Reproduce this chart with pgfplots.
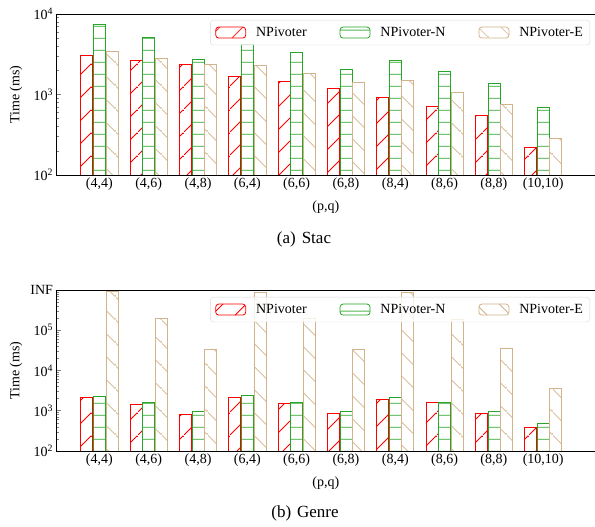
\documentclass[border=0pt]{standalone}
\usepackage{pgfplots}
\pgfplotsset{compat=1.18}
\usepackage{pgfplotstable}
\usepackage{fontspec}
\setmainfont{Liberation Serif}
\usetikzlibrary{patterns}
\definecolor{npred}{RGB}{255,0,0}
\definecolor{npgreen}{RGB}{40,165,40}
\definecolor{nptan}{RGB}{210,180,140}
\newcommand{\myfs}{\fontsize{14}{16}\selectfont}

\pgfdeclarepatterninherentlycolored{hred}{\pgfqpoint{0pt}{0pt}}{\pgfqpoint{23.3pt}{23.3pt}}{\pgfqpoint{23.3pt}{23.3pt}}{%
  \pgfsetcolor{npred}\pgfsetlinewidth{0.8pt}%
  \pgfpathmoveto{\pgfqpoint{-1pt}{-1pt}}\pgfpathlineto{\pgfqpoint{24.3pt}{24.3pt}}\pgfusepath{stroke}}
\pgfdeclarepatterninherentlycolored{htan}{\pgfqpoint{0pt}{0pt}}{\pgfqpoint{23.3pt}{23.3pt}}{\pgfqpoint{23.3pt}{23.3pt}}{%
  \pgfsetcolor{nptan}\pgfsetlinewidth{0.8pt}%
  \pgfpathmoveto{\pgfqpoint{-1pt}{24.3pt}}\pgfpathlineto{\pgfqpoint{24.3pt}{-1pt}}\pgfusepath{stroke}}
\pgfdeclarepatterninherentlycolored{hgreen}{\pgfqpoint{0pt}{0pt}}{\pgfqpoint{10pt}{11.7pt}}{\pgfqpoint{10pt}{11.7pt}}{%
  \pgfsetcolor{npgreen}\pgfsetlinewidth{0.8pt}%
  \pgfpathmoveto{\pgfqpoint{-1pt}{5.85pt}}\pgfpathlineto{\pgfqpoint{11pt}{5.85pt}}\pgfusepath{stroke}}

\pgfplotstableread{
x r n e
0 3030 7510 3400
1 2683 5130 2840
2 2345 2737 2370
3 1663 4200 2306
4 1458 3344 1834
5 1194 2075 1430
6 912 2660 1483
7 720 1920 1065
8 545 1390 755
9 223 686 282
}\stac

\pgfplotstableread{
x r n e
0 2090 2260 900000
1 1457 1580 200000
2 810 944 34300
3 2135 2350 880000
4 1515 1633 200000
5 842 944 34300
6 1937 2135 880000
7 1580 1633 185000
8 857 944 36300
9 380 476 3630
}\genre

\begin{document}
\begin{tikzpicture}
\useasboundingbox (0,0) rectangle (595pt,527pt);
\begin{axis}[at={(56.5pt,352pt)}, anchor=south west,
    scale only axis, width=538.5pt, height=161pt,
    xmin=-0.87, xmax=10.05,
    ymode=log,
    ymin=100, ymax=10000,
    ytick={100,1000,10000},
    yticklabels={10\textsuperscript{2},10\textsuperscript{3},10\textsuperscript{4}},
    minor ytick={200,300,400,500,600,700,800,900,2000,3000,4000,5000,6000,7000,8000,9000},
    ybar, bar width=12.0pt,
    axis y line*=left,
    tick align=inside,
    xtick={0,...,9},
    xticklabels={(4,4),(4,6),(4,8),(6,4),(6,6),(6,8),(8,4),(8,6),(8,8),(10,10)},
    major x tick style={draw=none},
    xticklabel style={yshift=1pt},
    ylabel={Time (ms)}, xlabel={(p,q)},
    ylabel style={at={(axis description cs:-0.075,0.5)}, anchor=center, font=\myfs},
    xlabel style={at={(axis description cs:0.5,-0.199)}, anchor=center, font=\myfs},
    tick label style={font=\myfs},
    legend columns=3,
    legend style={at={(1,1)}, anchor=north east, xshift=-5pt, yshift=-6pt,
      draw=black!15, rounded corners=3pt, fill=white, fill opacity=0.8,
      text opacity=1, draw opacity=1, font=\myfs, inner xsep=5pt, inner ysep=5pt,
      /tikz/every odd column/.append style={column sep=8pt},
      /tikz/every even column/.append style={column sep=31pt}},
    legend image code/.code={\draw[#1] (0pt,-5.5pt) rectangle (30pt,5.5pt);},
    axis line style={line width=0.8pt},
    major tick style={line width=0.6pt},
    minor tick style={line width=0.5pt},
]
\addplot[draw=npred, line width=0.8pt, pattern=hred, bar shift=-12.6pt] table[x=x,y=r]{\stac};
\addplot[draw=npgreen, line width=0.8pt, pattern=hgreen, bar shift=0pt] table[x=x,y=n]{\stac};
\addplot[draw=nptan, line width=0.8pt, pattern=htan, bar shift=12.6pt] table[x=x,y=e]{\stac};
\legend{NPivoter,NPivoter-N,NPivoter-E}
\end{axis}
\begin{axis}[at={(56.5pt,76pt)}, anchor=south west,
    scale only axis, width=538.5pt, height=161pt,
    xmin=-0.87, xmax=10.05,
    ymode=log,
    ymin=100, ymax=1000000,
    ytick={100,1000,10000,100000,1000000},
    yticklabels={10\textsuperscript{2},10\textsuperscript{3},10\textsuperscript{4},10\textsuperscript{5},INF},
    minor ytick={200,300,400,500,600,700,800,900,2000,3000,4000,5000,6000,7000,8000,9000,20000,30000,40000,50000,60000,70000,80000,90000,200000,300000,400000,500000,600000,700000,800000,900000},
    ybar, bar width=12.0pt,
    axis y line*=left,
    tick align=inside,
    xtick={0,...,9},
    xticklabels={(4,4),(4,6),(4,8),(6,4),(6,6),(6,8),(8,4),(8,6),(8,8),(10,10)},
    major x tick style={draw=none},
    xticklabel style={yshift=1pt},
    ylabel={Time (ms)}, xlabel={(p,q)},
    ylabel style={at={(axis description cs:-0.075,0.5)}, anchor=center, font=\myfs},
    xlabel style={at={(axis description cs:0.5,-0.199)}, anchor=center, font=\myfs},
    tick label style={font=\myfs},
    legend columns=3,
    legend style={at={(1,1)}, anchor=north east, xshift=-5pt, yshift=-7pt,
      draw=black!15, rounded corners=3pt, fill=white, fill opacity=0.8,
      text opacity=1, draw opacity=1, font=\myfs, inner xsep=5pt, inner ysep=5pt,
      /tikz/every odd column/.append style={column sep=8pt},
      /tikz/every even column/.append style={column sep=31pt}},
    legend image code/.code={\draw[#1] (0pt,-5.5pt) rectangle (30pt,5.5pt);},
    axis line style={line width=0.8pt},
    major tick style={line width=0.6pt},
    minor tick style={line width=0.5pt},
]
\addplot[draw=npred, line width=0.8pt, pattern=hred, bar shift=-12.6pt] table[x=x,y=r]{\genre};
\addplot[draw=npgreen, line width=0.8pt, pattern=hgreen, bar shift=0pt] table[x=x,y=n]{\genre};
\addplot[draw=nptan, line width=0.8pt, pattern=htan, bar shift=12.6pt] table[x=x,y=e]{\genre};
\legend{NPivoter,NPivoter-N,NPivoter-E}
\end{axis}
\node[font=\fontsize{17}{20}\selectfont] at (304pt,288pt) {(a)\hspace{0.35em}Stac};
\node[font=\fontsize{17}{20}\selectfont] at (305pt,14pt) {(b)\hspace{0.35em}Genre};
\end{tikzpicture}
\end{document}
